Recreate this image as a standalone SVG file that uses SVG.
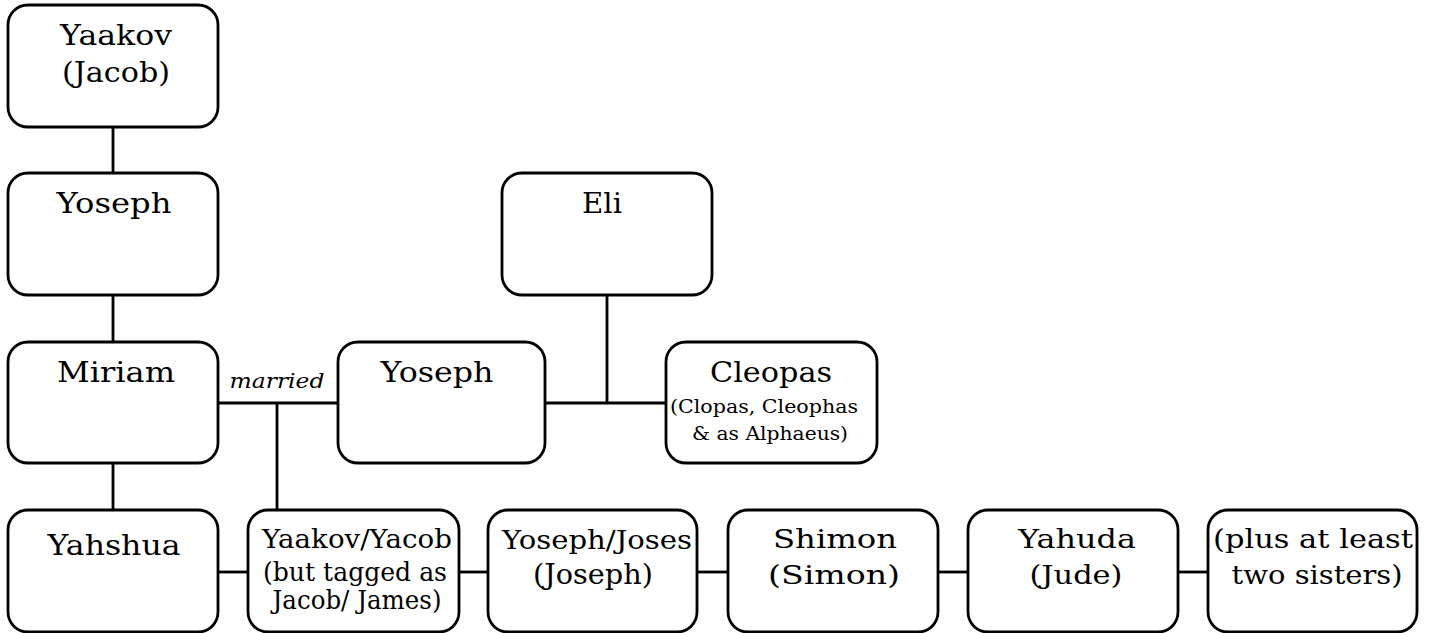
<svg xmlns="http://www.w3.org/2000/svg" width="1429" height="633" viewBox="0 0 1429 633">
<style>
.box{fill:#fff;stroke:#000;stroke-width:2.8}
.ln{stroke:#000;stroke-width:2.8;fill:none}
text{font-family:"DejaVu Serif","Liberation Serif",serif;fill:#000;text-anchor:middle}
.t{font-size:27px}
.s{font-size:18px}
.m{font-size:21px;font-style:italic}
.b{font-size:26px}
</style>
<rect width="1429" height="633" fill="#fff"/>
<g id="connectors">
<line class="ln" x1="113" y1="127" x2="113" y2="173"/>
<line class="ln" x1="113" y1="295" x2="113" y2="342"/>
<line class="ln" x1="113" y1="463" x2="113" y2="510"/>
<line class="ln" x1="218" y1="403" x2="338" y2="403"/>
<line class="ln" x1="277" y1="403" x2="277" y2="510"/>
<line class="ln" x1="607" y1="295" x2="607" y2="403"/>
<line class="ln" x1="545" y1="403" x2="666" y2="403"/>
<line class="ln" x1="218" y1="572" x2="248" y2="572"/>
<line class="ln" x1="459" y1="572" x2="488" y2="572"/>
<line class="ln" x1="697" y1="572" x2="728" y2="572"/>
<line class="ln" x1="938" y1="572" x2="968" y2="572"/>
<line class="ln" x1="1178" y1="572" x2="1208" y2="572"/>
<text class="m" x="277" y="388" textLength="95" lengthAdjust="spacingAndGlyphs">married</text>
</g>
<g id="yaakov">
<rect class="box" x="8" y="5" width="210" height="122" rx="20"/>
<text class="t" x="116" y="45" textLength="112" lengthAdjust="spacingAndGlyphs">Yaakov</text>
<text class="t" x="116" y="82" textLength="108" lengthAdjust="spacingAndGlyphs">(Jacob)</text>
</g>
<g id="yoseph1">
<rect class="box" x="8" y="173" width="210" height="122" rx="20"/>
<text class="t" x="114" y="213" textLength="115" lengthAdjust="spacingAndGlyphs">Yoseph</text>
</g>
<g id="miriam">
<rect class="box" x="8" y="342" width="210" height="121" rx="20"/>
<text class="t" x="116" y="382" textLength="118" lengthAdjust="spacingAndGlyphs">Miriam</text>
</g>
<g id="yoseph2">
<rect class="box" x="338" y="342" width="207" height="121" rx="20"/>
<text class="t" x="437" y="382" textLength="113" lengthAdjust="spacingAndGlyphs">Yoseph</text>
</g>
<g id="eli">
<rect class="box" x="502" y="173" width="210" height="122" rx="20"/>
<text class="t" x="602" y="213" textLength="40" lengthAdjust="spacingAndGlyphs">Eli</text>
</g>
<g id="cleopas">
<rect class="box" x="666" y="342" width="211" height="121" rx="20"/>
<text class="t" x="771" y="382" textLength="122" lengthAdjust="spacingAndGlyphs">Cleopas</text>
<text class="s" x="764" y="413" textLength="188" lengthAdjust="spacingAndGlyphs">(Clopas, Cleophas</text>
<text class="s" x="770" y="440" textLength="156" lengthAdjust="spacingAndGlyphs">&amp; as Alphaeus)</text>
</g>
<g id="yahshua">
<rect class="box" x="8" y="510" width="210" height="122" rx="20"/>
<text class="t" x="114" y="555" textLength="133" lengthAdjust="spacingAndGlyphs">Yahshua</text>
</g>
<g id="yaakov2">
<rect class="box" x="248" y="510" width="211" height="122" rx="20"/>
<text class="b" x="357" y="548" textLength="190" lengthAdjust="spacingAndGlyphs">Yaakov/Yacob</text>
<text class="b" x="355" y="581" textLength="184" lengthAdjust="spacingAndGlyphs">(but tagged as</text>
<text class="b" x="357" y="609" textLength="169" lengthAdjust="spacingAndGlyphs">Jacob/ James)</text>
</g>
<g id="yoseph3">
<rect class="box" x="488" y="510" width="209" height="122" rx="20"/>
<text class="b" x="597" y="549" textLength="190" lengthAdjust="spacingAndGlyphs">Yoseph/Joses</text>
<text class="t" x="593" y="584" textLength="120" lengthAdjust="spacingAndGlyphs">(Joseph)</text>
</g>
<g id="shimon">
<rect class="box" x="728" y="510" width="210" height="122" rx="20"/>
<text class="b" x="835" y="548" textLength="124" lengthAdjust="spacingAndGlyphs">Shimon</text>
<text class="b" x="834" y="584" textLength="132" lengthAdjust="spacingAndGlyphs">(Simon)</text>
</g>
<g id="yahuda">
<rect class="box" x="968" y="510" width="210" height="122" rx="20"/>
<text class="b" x="1077" y="548" textLength="118" lengthAdjust="spacingAndGlyphs">Yahuda</text>
<text class="b" x="1076" y="584" textLength="93" lengthAdjust="spacingAndGlyphs">(Jude)</text>
</g>
<g id="sisters">
<rect class="box" x="1208" y="510" width="209" height="122" rx="20"/>
<text class="b" x="1313" y="548" textLength="200" lengthAdjust="spacingAndGlyphs">(plus at least</text>
<text class="b" x="1317" y="584" textLength="171" lengthAdjust="spacingAndGlyphs">two sisters)</text>
</g>
</svg>
